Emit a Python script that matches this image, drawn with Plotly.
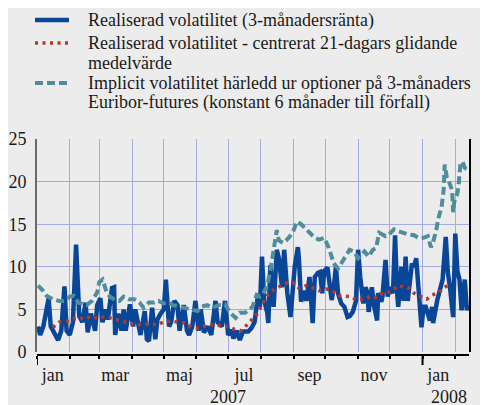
import plotly.graph_objects as go

# ---------------- data ----------------
real_dates = [
    "2007-01-02", "2007-01-04", "2007-01-07", "2007-01-12", "2007-01-14", "2007-01-21", "2007-01-24",
    "2007-01-27", "2007-01-29", "2007-02-01", "2007-02-04", "2007-02-07", "2007-02-10", "2007-02-13",
    "2007-02-16", "2007-02-18", "2007-02-21", "2007-02-25", "2007-02-27", "2007-03-02", "2007-03-04",
    "2007-03-07", "2007-03-09", "2007-03-13", "2007-03-15", "2007-03-16", "2007-03-19", "2007-03-22",
    "2007-03-24", "2007-03-26", "2007-03-30", "2007-04-02", "2007-04-04", "2007-04-08", "2007-04-09",
    "2007-04-13", "2007-04-15", "2007-04-17", "2007-04-20", "2007-04-23", "2007-04-25", "2007-04-28",
    "2007-05-01", "2007-05-03", "2007-05-06", "2007-05-08", "2007-05-11", "2007-05-14", "2007-05-16",
    "2007-05-20", "2007-05-23", "2007-05-25", "2007-05-28", "2007-05-31", "2007-06-03", "2007-06-05",
    "2007-06-08", "2007-06-12", "2007-06-15", "2007-06-19", "2007-06-21", "2007-06-25", "2007-06-28",
    "2007-07-01", "2007-07-04", "2007-07-06", "2007-07-09", "2007-07-12", "2007-07-15", "2007-07-20",
    "2007-07-23", "2007-07-26", "2007-07-29", "2007-07-31", "2007-08-02", "2007-08-04", "2007-08-07",
    "2007-08-08", "2007-08-10", "2007-08-13", "2007-08-16", "2007-08-18", "2007-08-21", "2007-08-23",
    "2007-08-26", "2007-08-29", "2007-09-01", "2007-09-02", "2007-09-05", "2007-09-06", "2007-09-08",
    "2007-09-11", "2007-09-13", "2007-09-16", "2007-09-19", "2007-09-21", "2007-09-24", "2007-09-26",
    "2007-09-28", "2007-09-30", "2007-10-03", "2007-10-05", "2007-10-07", "2007-10-09", "2007-10-11",
    "2007-10-13", "2007-10-16", "2007-10-19", "2007-10-22", "2007-10-24", "2007-10-27", "2007-10-30",
    "2007-11-01", "2007-11-03", "2007-11-06", "2007-11-08", "2007-11-10", "2007-11-11", "2007-11-14",
    "2007-11-16", "2007-11-19", "2007-11-20", "2007-11-23", "2007-11-24", "2007-11-27", "2007-11-29",
    "2007-12-01", "2007-12-04", "2007-12-06", "2007-12-08", "2007-12-09", "2007-12-12", "2007-12-14",
    "2007-12-16", "2007-12-18", "2007-12-22", "2007-12-24", "2007-12-26", "2007-12-28", "2007-12-31",
    "2008-01-02", "2008-01-04", "2008-01-06", "2008-01-08", "2008-01-10", "2008-01-11", "2008-01-15",
    "2008-01-20", "2008-01-23", "2008-01-25", "2008-01-27", "2008-01-30", "2008-02-01", "2008-02-03",
    "2008-02-05", "2008-02-07", "2008-02-09", "2008-02-10", "2008-02-12", "2008-02-13",
]
real_vals = [
    3.0, 2.0, 3.0, 6.3, 3.0, 1.4, 2.5,
    7.7, 2.5, 2.0, 3.5, 12.6, 4.2, 3.5,
    5.8, 2.3, 4.5, 2.5, 5.5, 6.3, 3.5,
    5.0, 3.8, 7.5, 7.6, 2.0, 4.5, 2.5,
    5.0, 2.5, 5.6, 3.0, 5.0, 3.0, 2.0,
    4.8, 1.5, 1.3, 5.2, 1.5, 3.8, 4.5,
    5.0, 8.5, 3.0, 3.5, 6.0, 5.5, 2.5,
    5.5, 2.5, 2.0, 3.0, 6.0, 2.5, 5.0,
    2.3, 3.0, 2.0, 6.0, 3.5, 3.0, 6.0,
    2.0, 2.6, 1.6, 2.5, 1.4, 2.4, 2.4,
    2.8, 3.5, 6.5, 5.3, 11.2, 6.1, 4.6,
    3.4, 10.2, 5.3, 12.0, 11.0, 7.6, 12.0,
    6.9, 4.1, 8.5, 10.0, 12.3, 10.8, 5.9,
    7.2, 6.0, 8.8, 3.4, 8.8, 9.3, 9.4,
    6.9, 9.5, 9.9, 7.9, 6.1, 7.6, 10.0,
    6.9, 5.7, 5.3, 4.1, 4.2, 4.7, 6.0,
    12.0, 8.8, 5.7, 7.6, 6.9, 4.7, 7.6,
    5.5, 3.7, 6.9, 5.9, 6.5, 10.8, 6.5,
    7.6, 6.9, 13.7, 6.9, 5.3, 10.0, 6.0,
    11.2, 6.0, 10.4, 10.0, 11.0, 7.2, 2.9,
    5.3, 5.3, 4.5, 3.7, 5.3, 3.4, 6.1,
    8.5, 13.5, 9.3, 7.6, 4.1, 13.9, 9.5,
    8.5, 4.9, 7.3, 8.5, 4.9, 5.5,
]

ma_dates = [
    "2007-01-16", "2007-01-22", "2007-01-29", "2007-02-05", "2007-02-10", "2007-02-16", "2007-02-21",
    "2007-03-01", "2007-03-08", "2007-03-14", "2007-03-21", "2007-03-28", "2007-04-04", "2007-04-11",
    "2007-04-18", "2007-04-25", "2007-05-02", "2007-05-09", "2007-05-15", "2007-05-21", "2007-05-28",
    "2007-06-03", "2007-06-10", "2007-06-16", "2007-06-23", "2007-07-01", "2007-07-06", "2007-07-13",
    "2007-07-19", "2007-07-23", "2007-07-28", "2007-08-01", "2007-08-04", "2007-08-08", "2007-08-14",
    "2007-08-20", "2007-08-27", "2007-09-02", "2007-09-06", "2007-09-13", "2007-09-19", "2007-09-25",
    "2007-10-02", "2007-10-08", "2007-10-13", "2007-10-19", "2007-10-25", "2007-10-31", "2007-11-07",
    "2007-11-14", "2007-11-18", "2007-11-22", "2007-11-28", "2007-12-03", "2007-12-09", "2007-12-12",
    "2007-12-18", "2007-12-24", "2007-12-29", "2008-01-05", "2008-01-10", "2008-01-16", "2008-01-21",
    "2008-01-27",
]
ma_vals = [
    2.9, 3.5, 3.6, 3.9, 3.8, 4.2, 3.9,
    4.1, 4.1, 3.9, 3.7, 3.4, 3.2, 3.2,
    3.3, 3.2, 3.6, 3.6, 3.5, 3.4, 2.9,
    2.8, 3.1, 3.2, 3.1, 3.0, 2.7, 2.5,
    3.2, 3.8, 4.4, 5.3, 5.9, 6.8, 7.4,
    7.8, 8.2, 8.1, 7.5, 7.8, 7.5, 7.2,
    7.4, 7.2, 6.6, 6.5, 6.5, 6.1, 6.2,
    6.6, 6.4, 6.8, 6.9, 7.2, 7.8, 7.7,
    7.6, 6.9, 6.6, 6.2, 6.7, 6.9, 7.5,
    8.0,
]

impl_dates = [
    "2007-01-02", "2007-01-06", "2007-01-10", "2007-01-16", "2007-01-22", "2007-01-27", "2007-02-01",
    "2007-02-05", "2007-02-09", "2007-02-13", "2007-02-17", "2007-02-22", "2007-02-27", "2007-03-01",
    "2007-03-04", "2007-03-08", "2007-03-11", "2007-03-15", "2007-03-20", "2007-03-24", "2007-03-29",
    "2007-04-03", "2007-04-08", "2007-04-12", "2007-04-17", "2007-04-22", "2007-04-26", "2007-05-01",
    "2007-05-06", "2007-05-10", "2007-05-16", "2007-05-21", "2007-05-27", "2007-06-02", "2007-06-05",
    "2007-06-11", "2007-06-16", "2007-06-22", "2007-06-28", "2007-07-03", "2007-07-08", "2007-07-12",
    "2007-07-17", "2007-07-22", "2007-07-24", "2007-07-28", "2007-07-31", "2007-08-03", "2007-08-07",
    "2007-08-10", "2007-08-13", "2007-08-15", "2007-08-16", "2007-08-18", "2007-08-22", "2007-08-25",
    "2007-08-28", "2007-09-01", "2007-09-04", "2007-09-08", "2007-09-11", "2007-09-16", "2007-09-21",
    "2007-09-25", "2007-09-30", "2007-10-04", "2007-10-07", "2007-10-09", "2007-10-13", "2007-10-16",
    "2007-10-19", "2007-10-24", "2007-10-28", "2007-11-01", "2007-11-03", "2007-11-07", "2007-11-11",
    "2007-11-15", "2007-11-18", "2007-11-21", "2007-11-24", "2007-11-27", "2007-12-02", "2007-12-05",
    "2007-12-09", "2007-12-13", "2007-12-18", "2007-12-24", "2007-12-28", "2008-01-02", "2008-01-06",
    "2008-01-09", "2008-01-11", "2008-01-14", "2008-01-16", "2008-01-19", "2008-01-21", "2008-01-22",
    "2008-01-24", "2008-01-26", "2008-01-29", "2008-01-30", "2008-01-31", "2008-02-03", "2008-02-04",
    "2008-02-06", "2008-02-08", "2008-02-10", "2008-02-13",
]
impl_vals = [
    7.8, 7.3, 6.6, 6.2, 6.0, 6.0, 6.5,
    6.6, 5.8, 5.6, 5.5, 6.0, 7.0, 8.2,
    8.5, 7.0, 6.5, 6.2, 6.0, 6.5, 6.2,
    6.2, 5.8, 5.2, 5.8, 5.8, 6.0, 5.7,
    5.8, 5.5, 5.3, 5.2, 5.0, 4.8, 5.3,
    5.5, 5.2, 5.5, 5.6, 4.6, 4.0, 4.6,
    4.6, 5.2, 5.3, 6.7, 6.5, 6.8, 7.8,
    9.6, 12.0, 13.5, 14.3, 13.1, 12.8, 13.1,
    13.5, 14.3, 15.3, 15.0, 14.6, 14.0, 13.4,
    13.2, 13.4, 12.3, 11.0, 10.4, 9.8, 10.4,
    11.2, 12.0, 11.8, 11.0, 11.2, 11.8, 11.2,
    12.0, 12.2, 14.0, 13.8, 13.6, 14.0, 14.4,
    14.2, 14.0, 13.8, 13.7, 13.4, 13.4, 13.6,
    12.3, 12.9, 14.3, 15.7, 17.0, 19.0, 22.0,
    20.5, 20.0, 19.0, 16.4, 17.6, 18.6, 19.4,
    22.2, 22.3, 21.6, 21.4,
]

series_names = [
    "Realiserad volatilitet (3-månadersränta)",
    "Realiserad volatilitet - centrerat 21-dagars glidande<br>medelvärde",
    "Implicit volatilitet härledd ur optioner på 3-månaders<br>Euribor-futures (konstant 6 månader till förfall)",
]
month_tick_dates = ["2007-01-16", "2007-03-16", "2007-05-16", "2007-07-16",
                    "2007-09-16", "2007-11-16", "2008-01-16"]
month_tick_labels = ["jan", "mar", "maj", "jul", "sep", "nov", "jan"]
year_labels = ["2007", "2008"]
year_starts = ["2007-01-01", "2008-01-01"]
y_ticks = [0, 5, 10, 15, 20, 25]

# ---------------- style ----------------
W, H = 488, 405
OFF = 8  # page body margin: the figure is drawn 8px right/down in the window
# target plot frame in window pixels
PL, PR, PT, PB = 37, 469, 139, 355
ML, MT = PL - OFF, PT - OFF
MR, MB = W - (PR - OFF), H - (PB - OFF)
PW, PH = PR - PL, PB - PT
BG = "#ececec"
BLUE = "#0a4697"
RED = "#b5392b"
TEAL = "#4f8d9b"
GRID = "#a4abdf"
FONT = "Liberation Serif"
TXT = "#1a1a1a"
RED_DASH = "3px,4.5px"
TEAL_DASH = "8px,4px"


def px_x(px):
    return (px - PL) / PW


def px_y(py):
    return (PB - py) / PH


fig = go.Figure()
fig.add_trace(go.Scatter(x=real_dates, y=real_vals, mode="lines", name=series_names[0],
                         line=dict(color=BLUE, width=4.5), showlegend=False))
fig.add_trace(go.Scatter(x=ma_dates, y=ma_vals, mode="lines", name=series_names[1],
                         line=dict(color=RED, width=3.5, dash=RED_DASH), showlegend=False))
fig.add_trace(go.Scatter(x=impl_dates, y=impl_vals, mode="lines", name=series_names[2],
                         line=dict(color=TEAL, width=4, dash=TEAL_DASH), showlegend=False,
                         yaxis="y2"))

# custom legend (sample lines + text)
legend_rows = [20, 43, 83]
legend_styles = [(BLUE, 4.5, "solid"), (RED, 3.5, RED_DASH), (TEAL, 4, TEAL_DASH)]
shapes = []
annotations = []
for (c, w, d), ry in zip(legend_styles, legend_rows):
    shapes.append(dict(type="line", xref="paper", yref="paper", x0=px_x(35), x1=px_x(69),
                       y0=px_y(ry), y1=px_y(ry), line=dict(color=c, width=w, dash=d)))
for name, ry in zip(series_names, legend_rows):
    for k, part in enumerate(name.split("<br>")):
        annotations.append(dict(text=part, xref="paper", yref="paper", x=px_x(86), y=px_y(ry + 20 * k),
                                xanchor="left", yanchor="middle", showarrow=False,
                                font=dict(family=FONT, size=18, color=TXT)))

# year labels and long year ticks
annotations.append(dict(text=year_labels[0], xref="x", yref="paper", x="2007-07-01", y=px_y(397),
                        xanchor="center", yanchor="middle", showarrow=False,
                        font=dict(family=FONT, size=18, color=TXT)))
annotations.append(dict(text=year_labels[1], xref="paper", yref="paper", x=1.0, y=px_y(397),
                        xanchor="right", yanchor="middle", showarrow=False,
                        font=dict(family=FONT, size=18, color=TXT)))
for ys in year_starts:
    shapes.append(dict(type="line", xref="x", yref="paper", x0=ys, x1=ys, y0=0, y1=px_y(365),
                       line=dict(color="black", width=2)))

fig.update_layout(
    width=W, height=H,
    margin=dict(l=ML, r=MR, t=MT, b=MB, pad=0, autoexpand=False),
    paper_bgcolor=BG, plot_bgcolor=BG,
    font=dict(family=FONT, size=18, color=TXT),
    showlegend=False,
    shapes=shapes, annotations=annotations,
    xaxis=dict(
        type="date", range=["2007-01-01", "2008-02-14"],
        anchor="free", position=0, automargin=False,
        tickvals=month_tick_dates, ticktext=month_tick_labels, ticks="",
        showgrid=False, zeroline=False,
        showline=True, linecolor="black", linewidth=1.5,
        ticklabelstandoff=4,
        tickfont=dict(family=FONT, size=18, color=TXT),
        minor=dict(dtick="M1", tick0="2007-01-01", showgrid=True, gridcolor=GRID, gridwidth=1,
                   ticks="outside", ticklen=3, tickcolor="black", tickwidth=1.5),
    ),
    yaxis=dict(
        range=[0, 25], tickvals=y_ticks, domain=[3 / PH, 1], automargin=False,
        showgrid=True, gridcolor=GRID, gridwidth=1, zeroline=False,
        showline=True, linecolor="#6a6a6a", linewidth=2, ticks="",
        ticklabelstandoff=5,
        tickfont=dict(family=FONT, size=18, color=TXT),
    ),
    yaxis2=dict(
        range=[0, 25], tickvals=y_ticks, overlaying="y", side="right", anchor="x", automargin=False,
        showgrid=False, zeroline=False,
        showline=True, linecolor="black", linewidth=2, ticks="",
        ticklabelstandoff=7,
        tickfont=dict(family=FONT, size=18, color=TXT),
    ),
)

fig.write_html("out.html")
